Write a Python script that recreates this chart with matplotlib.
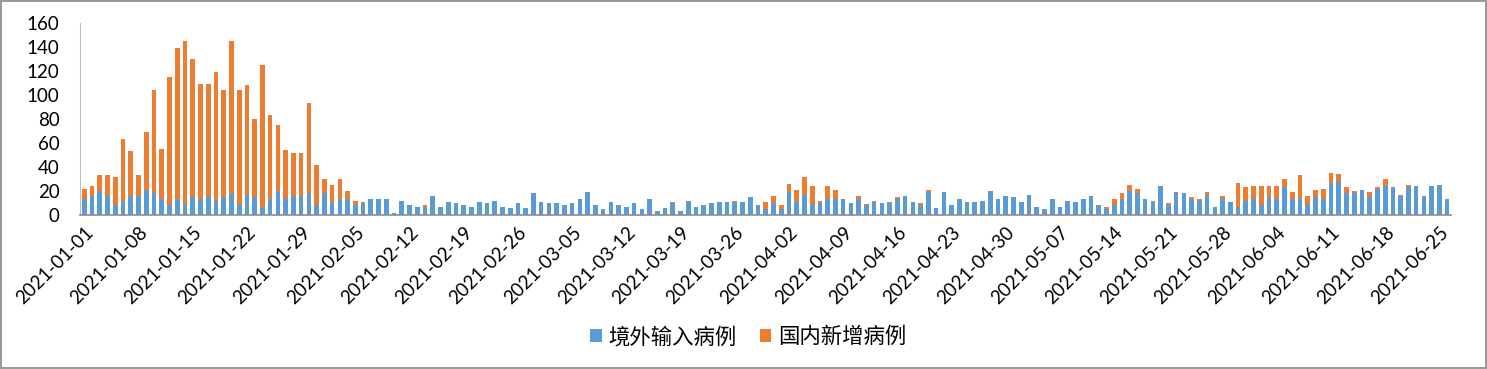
import numpy as np
import pandas as pd
from matplotlib import pyplot as plt

plt.rcParams['font.family'] = ['Lato', 'Noto Sans CJK SC', 'DejaVu Sans']

dates = pd.date_range('2021-01-01', periods=177).strftime('%Y-%m-%d')

# 境外输入病例 (blue)
imported = [13, 16, 20, 16, 8, 11, 16, 16, 21, 18, 13, 8, 13, 8, 15, 13, 16, 12, 15, 18,
            8, 17, 15, 7, 13, 20, 13, 16, 16, 18, 8, 18, 10, 13, 13, 8, 10, 13, 13, 13,
            2, 12, 8, 7, 7, 16, 7, 11, 10, 8, 7, 11, 10, 12, 7, 6, 10, 6, 18, 11,
            10, 10, 8, 10, 13, 19, 8, 5, 11, 8, 7, 10, 5, 13, 3, 6, 10, 3, 12, 7,
            8, 10, 11, 11, 11, 11, 15, 8, 5, 10, 5, 19, 11, 17, 8, 10, 13, 13, 13, 10,
            13, 8, 11, 10, 10, 13, 16, 11, 8, 19, 6, 19, 8, 13, 11, 11, 12, 20, 13, 16,
            15, 11, 17, 7, 5, 13, 7, 12, 11, 13, 16, 8, 5, 8, 13, 20, 18, 13, 11, 24,
            8, 18, 18, 13, 12, 17, 7, 13, 11, 7, 12, 13, 8, 15, 13, 23, 13, 13, 8, 15,
            13, 27, 28, 18, 18, 21, 15, 22, 24, 23, 16, 23, 24, 16, 24, 25, 13]

# 国内新增病例 (orange)
domestic = [9, 8, 13, 17, 24, 52, 37, 17, 48, 86, 42, 107, 126, 137, 115, 96, 93, 107, 89, 127,
            96, 91, 65, 118, 70, 55, 41, 36, 36, 75, 34, 12, 15, 17, 7, 4, 1, 0, 0, 0,
            0, 0, 0, 0, 1, 0, 0, 0, 0, 0, 0, 0, 0, 0, 0, 0, 0, 0, 0, 0,
            0, 0, 0, 0, 0, 0, 0, 0, 0, 0, 0, 0, 0, 0, 0, 0, 1, 0, 0, 0,
            0, 0, 0, 0, 1, 0, 0, 0, 6, 6, 3, 7, 10, 15, 16, 2, 11, 8, 0, 0,
            3, 1, 1, 0, 1, 2, 0, 0, 2, 2, 0, 0, 0, 0, 0, 0, 0, 0, 0, 0,
            0, 0, 0, 0, 0, 0, 0, 0, 0, 0, 0, 0, 2, 5, 5, 5, 4, 0, 1, 0,
            2, 1, 0, 2, 1, 2, 0, 3, 0, 20, 11, 11, 16, 9, 11, 7, 6, 20, 8, 6,
            9, 8, 6, 5, 2, 0, 4, 1, 6, 0, 1, 2, 0, 0, 0, 0, 0]

x = np.arange(len(dates))

fig = plt.figure(figsize=(14.87, 3.69), dpi=100, linewidth=1.5, edgecolor='#9a9a9a')
ax = fig.add_axes([0.0541, 0.4173, 0.9217, 0.5204])

ax.bar(x, imported, width=0.6, color='#5B9BD5', label='境外输入病例')
ax.bar(x, domestic, width=0.6, bottom=imported, color='#ED7D31', label='国内新增病例')

ax.set_xlim(-0.5, len(dates) - 0.5)
ax.set_ylim(0, 160)
ax.set_yticks(range(0, 161, 20))
ax.set_xticks(x[::7])
ax.set_xticklabels(dates[::7], rotation=45, ha='right', rotation_mode='anchor')
ax.tick_params(axis='both', length=0, labelsize=13.5, colors='#000000')
ax.tick_params(axis='x', pad=6)
ax.tick_params(axis='y', pad=15)

for s in ['top', 'right']:
    ax.spines[s].set_visible(False)
ax.spines['left'].set_color('#bfbfbf')
ax.spines['bottom'].set_color('#8c8c8c')
ax.spines['bottom'].set_linewidth(1.2)

fig.legend(loc='center', bbox_to_anchor=(0.503, 0.087), ncol=2, frameon=False,
           fontsize=15.4, handlelength=0.55, handleheight=0.55, handletextpad=0.3,
           columnspacing=1.1)

fig.savefig('out.png', dpi=100)
